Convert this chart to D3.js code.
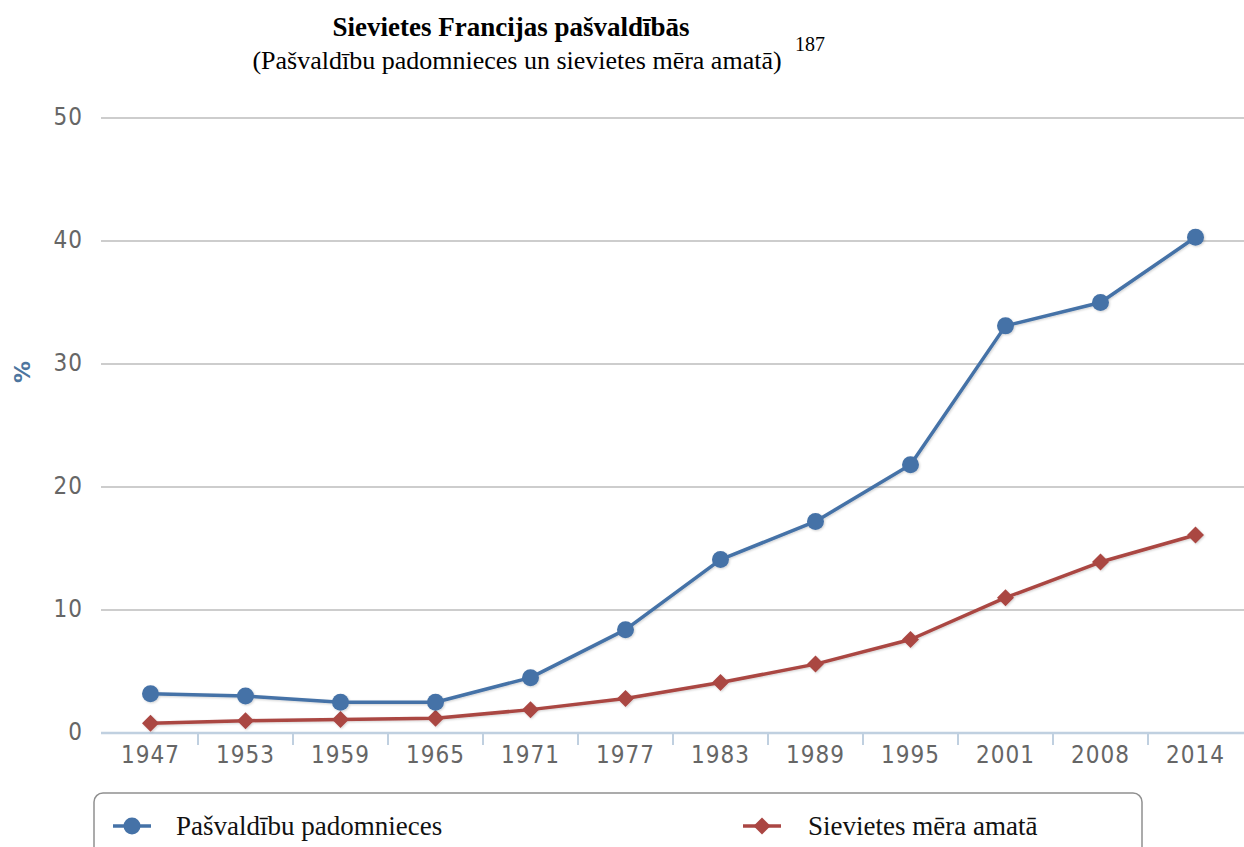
<!DOCTYPE html>
<html>
<head>
<meta charset="utf-8">
<script src="https://cdn.jsdelivr.net/npm/d3@7"></script>
<style>
  html, body { margin: 0; padding: 0; background: #fff; }
  svg { display: block; }
</style>
</head>
<body>
<script>
'use strict';
(function () {
  // chart data
  const years = ['1947', '1953', '1959', '1965', '1971', '1977', '1983', '1989', '1995', '2001', '2008', '2014'];
  const councillors = [3.2, 3.0, 2.5, 2.5, 4.5, 8.4, 14.1, 17.2, 21.8, 33.1, 35.0, 40.3];
  const mayors = [0.8, 1.0, 1.1, 1.2, 1.9, 2.8, 4.1, 5.6, 7.6, 11.0, 13.9, 16.1];
  const yTicks = [0, 10, 20, 30, 40, 50];
  const seriesNames = ['Pašvaldību padomnieces', 'Sievietes mēra amatā'];

  const width = 1244, height = 847;
  const left = 103, right = 1243, top = 118, bottom = 733;
  const labelFont = '"DejaVu Sans Condensed", "DejaVu Sans", sans-serif';
  const serif = '"Liberation Serif", "Times New Roman", serif';

  const svg = d3.select('body').append('svg')
    .attr('width', width)
    .attr('height', height);

  const defs = svg.append('defs');
  const f = defs.append('filter').attr('id', 'shadow')
    .attr('x', '-5%').attr('y', '-5%').attr('width', '110%').attr('height', '110%');
  f.append('feDropShadow').attr('dx', 1).attr('dy', 1).attr('stdDeviation', 1.2)
    .attr('flood-color', '#000').attr('flood-opacity', 0.18);

  // titles
  svg.append('text')
    .attr('x', 511).attr('y', 36)
    .attr('text-anchor', 'middle')
    .style('font-family', serif)
    .style('font-weight', 'bold')
    .style('font-size', '27px')
    .text('Sievietes Francijas pašvaldībās');
  svg.append('text')
    .attr('x', 517).attr('y', 69)
    .attr('text-anchor', 'middle')
    .style('font-family', serif)
    .style('font-size', '26px')
    .text('(Pašvaldību padomnieces un sievietes mēra amatā)');
  svg.append('text')
    .attr('x', 795).attr('y', 51)
    .style('font-family', serif)
    .style('font-size', '20px')
    .text('187');

  const x = d3.scaleBand().domain(years).range([left, right]);
  const y = d3.scaleLinear().domain([0, 50]).range([bottom, top]);

  // grid
  svg.append('g')
    .selectAll('line')
    .data(yTicks.filter(d => d > 0))
    .join('line')
    .attr('x1', 101).attr('x2', width)
    .attr('y1', d => y(d)).attr('y2', d => y(d))
    .attr('stroke', '#cdcdcd')
    .attr('stroke-width', 2);

  // y labels
  svg.append('g')
    .selectAll('text')
    .data(yTicks)
    .join('text')
    .attr('x', 83).attr('y', d => y(d) - 2)
    .attr('dy', '0.36em')
    .attr('text-anchor', 'end')
    .style('font-family', labelFont)
    .style('font-size', '24px')
    .style('letter-spacing', '1px')
    .style('fill', '#666')
    .text(d => d);

  svg.append('text')
    .attr('transform', 'translate(30,372) rotate(-90)')
    .attr('text-anchor', 'middle')
    .style('font-family', '"DejaVu Sans", sans-serif')
    .style('font-weight', 'bold')
    .style('font-size', '22px')
    .style('fill', '#4d759e')
    .text('%');

  // x axis
  const xAxis = svg.append('g').attr('transform', 'translate(0,' + bottom + ')');
  xAxis.append('line')
    .attr('x1', 101).attr('x2', width)
    .attr('stroke', '#c0d0e0').attr('stroke-width', 2.5);
  xAxis.selectAll('.tick')
    .data(years.slice(1))
    .join('line')
    .attr('class', 'tick')
    .attr('x1', d => x(d)).attr('x2', d => x(d))
    .attr('y1', 0).attr('y2', 12)
    .attr('stroke', '#c0d0e0').attr('stroke-width', 2);
  xAxis.selectAll('text')
    .data(years)
    .join('text')
    .attr('x', d => x(d) + x.bandwidth() / 2)
    .attr('y', 30)
    .attr('text-anchor', 'middle')
    .style('font-family', labelFont)
    .style('font-size', '24px')
    .style('letter-spacing', '1px')
    .style('fill', '#666')
    .text(d => d);

  const cx = d => x(d) + x.bandwidth() / 2;
  const line = d3.line().x(d => cx(d.year)).y(d => y(d.value));
  const blueData = years.map((d, i) => ({year: d, value: councillors[i]}));
  const redData = years.map((d, i) => ({year: d, value: mayors[i]}));

  const diamond = (s) => 'M0,' + (-s) + 'L' + s + ',0L0,' + s + 'L' + (-s) + ',0Z';

  function drawSeries(data, color, marker) {
    const g = svg.append('g').attr('filter', 'url(#shadow)');
    g.append('path')
      .datum(data)
      .attr('d', line)
      .attr('fill', 'none')
      .attr('stroke', color)
      .attr('stroke-width', 3.5)
      .attr('stroke-linejoin', 'round');
    if (marker === 'circle') {
      g.selectAll('circle').data(data).join('circle')
        .attr('cx', d => cx(d.year)).attr('cy', d => y(d.value))
        .attr('r', 8.5).attr('fill', color);
    } else {
      g.selectAll('path.m').data(data).join('path')
        .attr('class', 'm')
        .attr('transform', d => 'translate(' + cx(d.year) + ',' + y(d.value) + ')')
        .attr('d', diamond(8.5)).attr('fill', color);
    }
  }
  drawSeries(redData, '#aa4643', 'diamond');
  drawSeries(blueData, '#4572a7', 'circle');

  // legend
  const lg = svg.append('g');
  lg.append('rect')
    .attr('x', 94).attr('y', 793).attr('width', 1048).attr('height', 80)
    .attr('rx', 9)
    .attr('fill', '#fff').attr('stroke', '#909090').attr('stroke-width', 1.5);
  const items = [
    {name: seriesNames[0], color: '#4572a7', marker: 'circle', x: 113, tx: 176},
    {name: seriesNames[1], color: '#aa4643', marker: 'diamond', x: 743, tx: 808}
  ];
  items.forEach(it => {
    lg.append('line')
      .attr('x1', it.x).attr('x2', it.x + 38)
      .attr('y1', 826).attr('y2', 826)
      .attr('stroke', it.color).attr('stroke-width', 3.5);
    if (it.marker === 'circle') {
      lg.append('circle').attr('cx', it.x + 19).attr('cy', 826).attr('r', 8.5).attr('fill', it.color);
    } else {
      lg.append('path').attr('transform', 'translate(' + (it.x + 19) + ',826)')
        .attr('d', diamond(8.5)).attr('fill', it.color);
    }
    lg.append('text')
      .attr('x', it.tx).attr('y', 835)
      .style('font-family', serif)
      .style('font-size', '27px')
      .style('fill', '#111')
      .text(it.name);
  });
})();
</script>
</body>
</html>
